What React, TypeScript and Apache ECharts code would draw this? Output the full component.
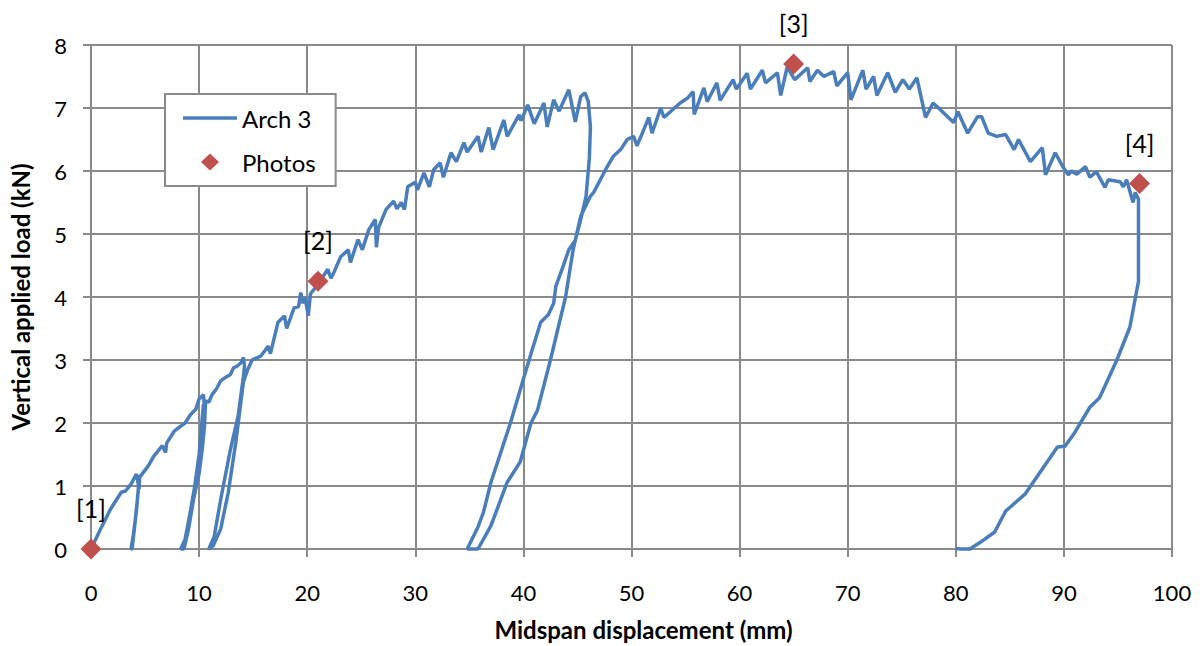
import React, { useEffect, useRef } from "react";
import * as echarts from "echarts";

// Arch 3 load path, segment by segment: [midspan displacement (mm), vertical load (kN)]
const loadingA: number[][] = [
  [0, 0], [0.9, 0.32], [1.8, 0.63], [2.8, 0.9], [3.2, 0.92], [3.7, 1.03], [4.2, 1.19], [4.3, 1.1], [4.45, 0.95], [4.5, 1.15],
];
const unload1: number[][] = [[4.4, 1.0], [4.2, 0.6], [3.9, 0.2], [3.7, 0]];
const reload1: number[][] = [
  [3.8, 0], [4.0, 0.3], [4.3, 0.8], [4.5, 1.15], [4.6, 1.16], [5.3, 1.32], [5.8, 1.47], [6.6, 1.64], [6.9, 1.53], [7.0, 1.68],
  [7.7, 1.87], [8.3, 1.95], [8.7, 2.0], [9.2, 2.13], [9.7, 2.22], [10.0, 2.38], [10.4, 2.45], [10.5, 2.25],
];
const unload2: number[][] = [[10.4, 2.3], [10.2, 1.9], [10.0, 1.5], [9.6, 1.0], [9.2, 0.6], [8.7, 0.15], [8.3, 0]];
const reload2: number[][] = [
  [8.6, 0], [9.0, 0.3], [9.5, 0.8], [10.0, 1.2], [10.3, 1.6], [10.5, 1.95], [10.6, 2.35], [10.9, 2.33], [11.2, 2.45],
  [11.6, 2.54], [12.0, 2.67], [12.4, 2.72], [12.9, 2.77], [13.2, 2.88], [13.5, 2.9], [13.9, 2.96], [14.1, 3.04], [14.2, 2.9],
];
const unload3: number[][] = [[14.1, 2.74], [13.6, 2.1], [12.9, 1.58], [12.0, 0.79], [11.4, 0.2], [10.9, 0]];
const reload3: number[][] = [
  [11.3, 0.05], [12.0, 0.32], [12.7, 0.9], [13.4, 1.7], [14.1, 2.65], [14.5, 2.85], [14.9, 3.0], [15.7, 3.06], [16.4, 3.22],
  [16.6, 3.1], [17.3, 3.6], [17.9, 3.7], [18.1, 3.5], [18.8, 3.83], [19.2, 3.85], [19.4, 4.07], [19.6, 3.9], [19.8, 4.0],
  [20.1, 3.7], [20.3, 4.05], [21.0, 4.2], [21.9, 4.44], [22.2, 4.3], [22.5, 4.4], [23.1, 4.64], [23.8, 4.75], [24.0, 4.55],
  [24.7, 4.91], [25.1, 4.75], [25.7, 5.07], [26.3, 5.23], [26.4, 4.79], [26.6, 5.1], [27.3, 5.39], [28.0, 5.52], [28.3, 5.4],
  [28.7, 5.5], [29.0, 5.39], [29.3, 5.75], [30.0, 5.82], [30.2, 5.7], [30.8, 5.97], [31.3, 5.75], [31.7, 6.02], [32.3, 6.13],
  [32.6, 5.9], [33.3, 6.29], [33.8, 6.15], [34.5, 6.45], [34.8, 6.3], [35.8, 6.55], [36.1, 6.3], [36.8, 6.69], [37.2, 6.34],
  [38.2, 6.81], [38.5, 6.55], [39.6, 6.89], [39.8, 6.8], [40.4, 7.05], [41.0, 6.75], [41.9, 7.08], [42.2, 6.7], [42.8, 7.13],
  [43.3, 6.95], [44.2, 7.29], [44.8, 6.78], [45.3, 7.18], [45.7, 7.24], [46.0, 7.1], [46.2, 6.7],
];
const unload4: number[][] = [
  [46.1, 6.2], [45.8, 5.6], [45.3, 5.23], [44.8, 4.9], [44.2, 4.75], [43.7, 4.5], [43.0, 4.17], [42.8, 3.9], [42.3, 3.72],
  [41.6, 3.6], [40.7, 3.1], [40.0, 2.7], [38.8, 2.0], [37.0, 1.06], [36.3, 0.58], [35.8, 0.35], [34.8, 0],
];
const reload4: number[][] = [
  [35.8, 0], [37.0, 0.37], [38.5, 1.06], [39.7, 1.38], [40.7, 2.0], [41.3, 2.2], [42.5, 3.0], [43.9, 4.0], [44.6, 4.75],
  [45.3, 5.28], [46.2, 5.6], [46.5, 5.66], [47.6, 6.02], [48.3, 6.23], [49.0, 6.34], [49.6, 6.5], [50.2, 6.55], [50.5, 6.4],
  [51.0, 6.6], [51.6, 6.85], [51.9, 6.6], [52.7, 7.0], [53.0, 6.85], [54.5, 7.08], [55.2, 7.16], [55.7, 7.26], [55.8, 6.9],
  [56.7, 7.32], [57.0, 7.1], [57.9, 7.4], [58.2, 7.12], [59.4, 7.45], [59.7, 7.3], [60.7, 7.55], [61.0, 7.3], [62.1, 7.6],
  [62.4, 7.4], [63.5, 7.56], [63.8, 7.2], [64.4, 7.65], [65.1, 7.45], [66.3, 7.64], [66.5, 7.42], [67.2, 7.6], [67.8, 7.5],
  [68.7, 7.58], [69.0, 7.35], [70.0, 7.56], [70.3, 7.13], [71.4, 7.6], [71.7, 7.3], [72.4, 7.5], [72.7, 7.2], [73.7, 7.56],
  [74.4, 7.25], [75.1, 7.45], [75.7, 7.3], [76.4, 7.48], [77.2, 6.85], [77.9, 7.08], [78.4, 7.0], [79.8, 6.77], [80.2, 6.94],
  [81.1, 6.6], [82.0, 6.86], [82.4, 6.86], [83.0, 6.6], [83.8, 6.55], [84.6, 6.58], [85.4, 6.34], [85.8, 6.5], [86.9, 6.15],
  [88.0, 6.37], [88.3, 5.94], [89.2, 6.29], [89.9, 6.07], [90.4, 5.94], [90.7, 6.0], [91.2, 5.95], [92.0, 6.07], [92.4, 5.9],
  [93.0, 5.99], [93.8, 5.74], [94.1, 5.86], [95.2, 5.83], [95.5, 5.75], [95.8, 5.86], [96.4, 5.5], [96.6, 5.66], [96.9, 5.55],
];
const unload5: number[][] = [
  [96.9, 4.75], [96.9, 4.25], [96.1, 3.52], [94.9, 3.0], [93.3, 2.4], [92.4, 2.25], [90.9, 1.82], [90.1, 1.63], [89.4, 1.62],
  [86.4, 0.87], [84.6, 0.6], [83.6, 0.27], [82.3, 0.11], [81.3, 0], [80.4, 0], [80.0, 0.01],
];

// Photo points
const photoX = [0, 21, 65, 97];
const photoY = [0, 4.25, 7.7, 5.8];
const photoLabels = ["[1]", "[2]", "[3]", "[4]"];

const xTicks = { min: 0, max: 100, interval: 10 };
const yTicks = { min: 0, max: 8, interval: 1 };

const FONT = "Lato, 'Open Sans', sans-serif";

export default function App() {
  const ref = useRef<HTMLDivElement>(null);
  useEffect(() => {
    if (!ref.current) return;
    const chart = echarts.init(ref.current, undefined, { renderer: "svg" });
    const archData = [
      ...loadingA, ...unload1, ...reload1, ...unload2, ...reload2, ...unload3, ...reload3,
      ...unload4, ...reload4, ...unload5,
    ];
    const photoData = photoX.map((x, i) => ({ value: [x, photoY[i]], name: photoLabels[i] }));
    const gridColor = "#8a8a8a";
    chart.setOption({
      animation: false,
      backgroundColor: "#ffffff",
      textStyle: { fontFamily: FONT },
      grid: { left: 90, right: 32, top: 45, bottom: 96, containLabel: false },
      legend: {
        orient: "vertical",
        left: 165,
        top: 94,
        padding: [12, 20, 12, 18],
        itemGap: 20,
        itemWidth: 54,
        itemHeight: 18,
        backgroundColor: "#ffffff",
        borderColor: "#8a8a8a",
        borderWidth: 2,
        textStyle: { fontSize: 24, color: "#000", fontFamily: FONT },
        data: [
          { name: "Arch 3", icon: "path://M0,7.2 L54,7.2 L54,10.8 L0,10.8 Z" },
          {
            name: "Photos",
            icon: "path://M0,0 L0.01,0.01 Z M54,18 L53.99,17.99 Z M27,0.5 L36,9 L27,17.5 L18,9 Z",
          },
        ],
      },
      xAxis: {
        type: "value",
        min: xTicks.min,
        max: xTicks.max,
        interval: xTicks.interval,
        name: "Midspan displacement (mm)",
        nameLocation: "middle",
        nameGap: 68,
        nameTextStyle: { fontSize: 24, fontWeight: "bold", color: "#000", fontFamily: FONT, padding: [0, 0, 0, 24] },
        axisLine: { show: true, lineStyle: { color: gridColor, width: 2 } },
        axisTick: { show: true, length: 8, lineStyle: { color: gridColor, width: 2 } },
        axisLabel: { fontSize: 22, color: "#000", margin: 32, fontFamily: FONT },
        splitLine: { show: true, lineStyle: { color: gridColor, width: 2 } },
      },
      yAxis: {
        type: "value",
        min: yTicks.min,
        max: yTicks.max,
        interval: yTicks.interval,
        name: "Vertical applied load (kN)",
        nameLocation: "middle",
        nameGap: 59,
        nameTextStyle: { fontSize: 24, fontWeight: "bold", color: "#000", fontFamily: FONT },
        axisLine: { show: true, lineStyle: { color: gridColor, width: 2 } },
        axisTick: { show: true, length: 8, lineStyle: { color: gridColor, width: 2 } },
        axisLabel: { fontSize: 22, color: "#000", margin: 24, fontFamily: FONT },
        splitLine: { show: true, lineStyle: { color: gridColor, width: 2 } },
      },
      series: [
        {
          name: "Arch 3",
          type: "line",
          data: archData,
          symbol: "none",
          showSymbol: false,
          clip: false,
          color: "#4A7EBB",
          lineStyle: { color: "#4A7EBB", width: 3.5 },
          z: 2,
        },
        {
          name: "Photos",
          type: "scatter",
          data: photoData,
          symbol: "diamond",
          symbolSize: 21,
          clip: false,
          color: "#C0504D",
          itemStyle: { color: "#C0504D", opacity: 1 },
          label: {
            show: true,
            position: "top",
            distance: 18,
            formatter: (p: any) => p.name,
            fontSize: 25,
            color: "#000",
            fontFamily: FONT,
          },
          z: 3,
        },
      ],
    });
    return () => chart.dispose();
  }, []);
  return <div ref={ref} style={{ position: "absolute", left: 0, top: 0, width: 1204, height: 646 }} />;
}
